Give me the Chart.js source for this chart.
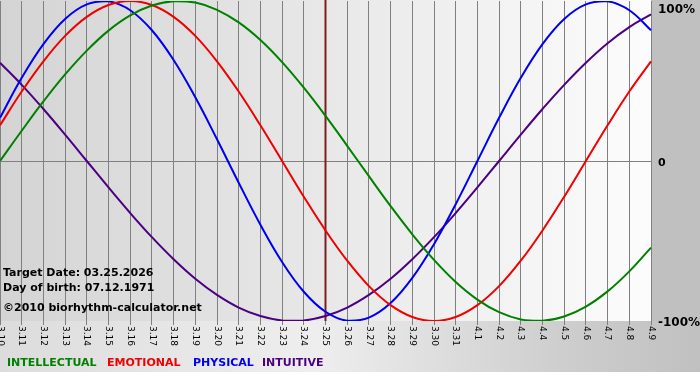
<!DOCTYPE html>
<html>
<head>
<meta charset="utf-8">
<script src="https://cdn.jsdelivr.net/npm/chart.js@4.4.1/dist/chart.umd.min.js"></script>
<style>
  html, body { margin: 0; padding: 0; background: #fff; }
</style>
</head>
<body>
<canvas id="bioChart" width="700" height="380"></canvas>
<script>
// days shown on the x axis
const days = ['3.10', '3.11', '3.12', '3.13', '3.14', '3.15', '3.16', '3.17', '3.18', '3.19',
  '3.20', '3.21', '3.22', '3.23', '3.24', '3.25', '3.26', '3.27', '3.28', '3.29', '3.30', '3.31',
  '4.1', '4.2', '4.3', '4.4', '4.5', '4.6', '4.7', '4.8', '4.9'];

// values in percent, one per day
const intellectual = [0, 18.9, 37.2, 54.1, 69.0, 81.5, 91.0, 97.2, 99.9, 99.0,
  94.5, 86.6, 75.6, 61.8, 45.8, 28.2, 9.5, -9.5, -28.2, -45.8, -61.8,
  -75.6, -86.6, -94.5, -99.0, -99.9, -97.2, -91.0, -81.5, -69.0, -54.1];
const emotional = [22.3, 43.4, 62.3, 78.2, 90.1, 97.5, 100, 97.5, 90.1, 78.2,
  62.3, 43.4, 22.3, 0, -22.3, -43.4, -62.3, -78.2, -90.1, -97.5, -100,
  -97.5, -90.1, -78.2, -62.3, -43.4, -22.3, 0, 22.3, 43.4, 62.3];
const physical = [27.0, 52.0, 73.1, 88.8, 97.9, 99.8, 94.2, 81.7, 63.1, 39.8,
  13.6, -13.6, -39.8, -63.1, -81.7, -94.2, -99.8, -97.9, -88.8, -73.1, -52.0,
  -27.0, 0, 27.0, 52.0, 73.1, 88.8, 97.9, 99.8, 94.2, 81.7];
const intuitive = [61.4, 47.6, 32.5, 16.5, 0, -16.5, -32.5, -47.6, -61.4, -73.6,
  -83.7, -91.6, -96.9, -99.7, -99.7, -96.9, -91.6, -83.7, -73.6, -61.4, -47.6,
  -32.5, -16.5, 0, 16.5, 32.5, 47.6, 61.4, 73.6, 83.7, 91.6];

const yTickLabels = ['100%', '0', '-100%'];
const markerDay = '3.25';
const targetDate = '03.25.2026';
const birthDate = '07.12.1971';

const colors = {
  intellectual: '#008000',
  emotional: '#f00000',
  physical: '#0000f0',
  intuitive: '#4b0082'
};

const FONT = 'Verdana, "DejaVu Sans", sans-serif';

const decor = {
  id: 'decor',
  beforeDraw(chart) {
    const { ctx, chartArea: a, width, height } = chart;
    ctx.save();
    ctx.fillStyle = '#ffffff';
    ctx.fillRect(0, 0, width, height);
    // bottom band
    let g = ctx.createLinearGradient(0, 0, width, 0);
    g.addColorStop(0, '#dcdcdc');
    g.addColorStop(0.45, '#eeeeee');
    g.addColorStop(0.8, '#cecece');
    g.addColorStop(1, '#c0c0c0');
    ctx.fillStyle = g;
    ctx.fillRect(0, 0, width, 372);
    // right strip
    ctx.fillStyle = '#c0c0c0';
    ctx.fillRect(a.right, 0, width - a.right, a.bottom);
    // plot area
    g = ctx.createLinearGradient(a.left, 0, a.right, 0);
    g.addColorStop(0, '#d4d4d4');
    g.addColorStop(1, '#fcfcfc');
    ctx.fillStyle = g;
    ctx.fillRect(a.left, 0, a.right - a.left, a.bottom);
    ctx.restore();
  },
  beforeDatasetsDraw(chart) {
    const { ctx, chartArea: a } = chart;
    const x = chart.scales.x.getPixelForValue(days.indexOf(markerDay));
    ctx.save();
    ctx.strokeStyle = '#7b1f1f';
    ctx.lineWidth = 2;
    ctx.beginPath();
    ctx.moveTo(x, 0);
    ctx.lineTo(x, a.bottom);
    ctx.stroke();
    ctx.restore();
  },
  afterDraw(chart) {
    const { ctx, chartArea: a } = chart;
    const xs = chart.scales.x;
    const ys = chart.scales.y;
    ctx.save();
    ctx.fillStyle = '#000';

    // rotated day labels
    ctx.font = '9px ' + FONT;
    ctx.textAlign = 'left';
    ctx.textBaseline = 'middle';
    days.forEach((d, i) => {
      const x = xs.getPixelForTick(i);
      ctx.save();
      ctx.translate(x, a.bottom + 5);
      ctx.rotate(Math.PI / 2);
      ctx.fillText(d, 0, 0);
      ctx.restore();
    });

    // right side percent labels
    ctx.textBaseline = 'alphabetic';
    ctx.font = 'bold 12px ' + FONT;
    ctx.fillText(yTickLabels[0], a.right + 7, ys.getPixelForValue(100) + 12);
    ctx.font = 'bold 11px ' + FONT;
    ctx.fillText(yTickLabels[1], a.right + 7, ys.getPixelForValue(0) + 5);
    ctx.font = 'bold 12px ' + FONT;
    ctx.fillText(yTickLabels[2], a.right + 7, ys.getPixelForValue(-100) + 5);

    // info text
    ctx.font = 'bold 11px ' + FONT;
    ctx.fillText('Target Date: ' + targetDate, 3, 276);
    ctx.fillText('Day of birth: ' + birthDate, 3, 291);
    ctx.fillText('\u00a92010 biorhythm-calculator.net', 3, 311);

    // legend
    const legend = [
      ['INTELLECTUAL', colors.intellectual, 7],
      ['EMOTIONAL', colors.emotional, 107],
      ['PHYSICAL', colors.physical, 193],
      ['INTUITIVE', colors.intuitive, 262]
    ];
    legend.forEach(([t, c, x]) => {
      ctx.fillStyle = c;
      ctx.fillText(t, x, 366);
    });
    ctx.restore();
  }
};

function line(label, data, color) {
  return {
    label: label,
    data: data,
    borderColor: color,
    borderWidth: 2,
    pointRadius: 0,
    fill: false,
    tension: 0.4
  };
}

new Chart(document.getElementById('bioChart'), {
  type: 'line',
  data: {
    labels: days,
    datasets: [
      line('INTELLECTUAL', intellectual, colors.intellectual),
      line('EMOTIONAL', emotional, colors.emotional),
      line('PHYSICAL', physical, colors.physical),
      line('INTUITIVE', intuitive, colors.intuitive)
    ]
  },
  options: {
    responsive: false,
    animation: false,
    layout: { padding: { left: 0, right: 49, top: 1, bottom: 55 } },
    plugins: { legend: { display: false }, tooltip: { enabled: false } },
    scales: {
      x: {
        offset: false,
        border: { display: false },
        grid: { color: '#808080', lineWidth: 1, drawTicks: true, tickLength: 4 },
        ticks: { display: false }
      },
      y: {
        min: -100,
        max: 100,
        border: { display: false },
        grid: {
          drawTicks: false,
          color: (c) => (c.tick && c.tick.value === 0 ? '#808080' : 'rgba(0,0,0,0)')
        },
        ticks: { display: false, stepSize: 100 }
      }
    }
  },
  plugins: [decor]
});
</script>
</body>
</html>
